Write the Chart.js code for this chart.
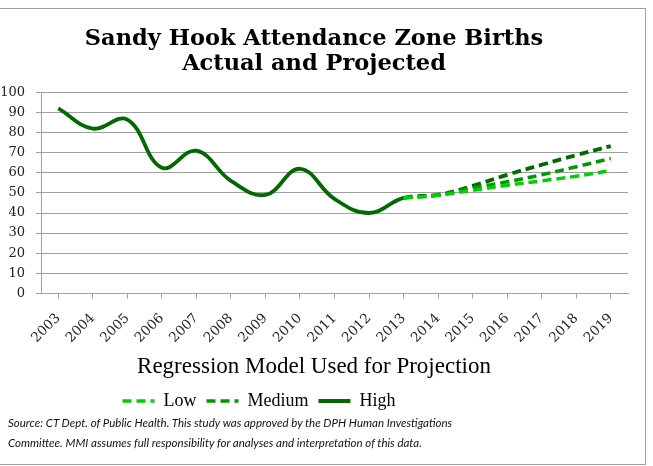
<!DOCTYPE html>
<html>
<head>
<meta charset="utf-8">
<script src="https://cdn.jsdelivr.net/npm/chart.js@4.4.0/dist/chart.umd.min.js"></script>
<style>
  body { margin: 0; background: #fff; }
  #wrap { position: relative; width: 653px; height: 466px; overflow: hidden; }
  #frame { position: absolute; left: -2px; top: 8px; width: 646px; height: 455px; border: 1px solid #a0a0a0; }
  #chartBox { position: absolute; left: 0; top: 0; width: 653px; height: 466px; }
  #source { position: absolute; left: 8px; top: 413px; font: italic 11.5px Lato, sans-serif; line-height: 20px; color: #111; }
</style>
</head>
<body>
<div id="wrap">
  <div id="frame"></div>
  <div id="chartBox"><canvas id="myChart" width="653" height="466"></canvas></div>
  <div id="source">Source: CT Dept. of Public Health. This study was approved by the DPH Human Investigations<br>Committee. MMI assumes full responsibility for analyses and interpretation of this data.</div>
</div>
<script>
const years = ["2003", "2004", "2005", "2006", "2007", "2008", "2009", "2010", "2011", "2012", "2013", "2014", "2015", "2016", "2017", "2018", "2019"];
// actual births 2003-2013 continue into the high projection
const highValues = [92, 82, 86.5, 62.5, 71, 56, 49, 62, 47, 40, 47.5, 49, 53.5, 59, 64, 68.8, 73.3];
const mediumValues = [null, null, null, null, null, null, null, null, null, null, 47.5, 49, 52.5, 55.5, 59, 63, 67.1];
const lowValues = [null, null, null, null, null, null, null, null, null, null, 47.5, 48.8, 51.3, 53.8, 56, 58.3, 61.1];
const yTicks = [0, 10, 20, 30, 40, 50, 60, 70, 80, 90, 100];
const lastActual = 10;

const dash = [9, 5];

// the legend in the original sits left of centre
const shiftLegend = {
  id: "shiftLegend",
  afterLayout(chart) {
    chart.legend.left -= 55;
    chart.legend.right -= 55;
  },
};

const ctx = document.getElementById("myChart").getContext("2d");
const chart = new Chart(ctx, {
  type: "line",
  data: {
    labels: years,
    datasets: [
      {
        label: "Low",
        data: lowValues,
        borderColor: "#00d000",
        backgroundColor: "#00d000",
        borderWidth: 3.5,
        borderDash: dash,
        pointRadius: 0,
        tension: 0.4,
      },
      {
        label: "Medium",
        data: mediumValues,
        borderColor: "#009a00",
        backgroundColor: "#009a00",
        borderWidth: 3.5,
        borderDash: dash,
        pointRadius: 0,
        tension: 0.4,
      },
      {
        label: "High",
        data: highValues,
        borderColor: "#006a00",
        backgroundColor: "#006a00",
        borderWidth: 3.8,
        pointRadius: 0,
        tension: 0.4,
        segment: {
          borderDash: c => c.p0DataIndex >= lastActual ? dash : undefined,
        },
      },
    ],
  },
  plugins: [shiftLegend],
  options: {
    responsive: false,
    animation: false,
    layout: { padding: { left: 0, right: 25, top: 0, bottom: 46 } },
    plugins: {
      title: {
        display: true,
        text: ["Sandy Hook Attendance Zone Births", "Actual and Projected"],
        color: "#000",
        font: { family: "DejaVu Serif", size: 22.5, weight: "bold", lineHeight: 1.12 },
        padding: { top: 26.5, bottom: 15.5 },
      },
      subtitle: {
        display: true,
        position: "bottom",
        weight: 1500,
        text: "Regression Model Used for Projection",
        color: "#000",
        font: { family: "Liberation Serif", size: 23, lineHeight: 1.2 },
        padding: { top: 11, bottom: 1 },
      },
      legend: {
        position: "bottom",
        weight: 2000,
        labels: {
          usePointStyle: true,
          pointStyle: "line",
          pointStyleWidth: 32,
          color: "#000",
          font: { family: "Liberation Serif", size: 18 },
          padding: 10,
          generateLabels: c => Chart.defaults.plugins.legend.labels.generateLabels(c).map(item => {
            item.lineDash = c.data.datasets[item.datasetIndex].borderDash || [];
            return item;
          }),
        },
      },
      tooltip: { enabled: false },
    },
    scales: {
      x: {
        offset: true,
        afterFit: s => { s.paddingLeft = 0; s.height = 49; },
        grid: { display: true, drawOnChartArea: false, drawTicks: true, tickLength: 5, color: "#a0a0a0", offset: false },
        border: { color: "#a0a0a0" },
        ticks: {
          minRotation: 45,
          maxRotation: 45,
          color: "#222",
          font: { family: "DejaVu Serif", size: 13.5 },
          padding: 12,
        },
      },
      y: {
        min: 0,
        max: 100,
        afterBuildTicks: axis => { axis.ticks = yTicks.map(v => ({ value: v })); },
        afterFit: s => { s.width = 41; },
        grid: { color: "#a0a0a0", tickLength: 5 },
        border: { color: "#a0a0a0" },
        ticks: {
          color: "#222",
          font: { family: "DejaVu Serif", size: 13 },
          padding: 11,
        },
      },
    },
  },
});
</script>
</body>
</html>
